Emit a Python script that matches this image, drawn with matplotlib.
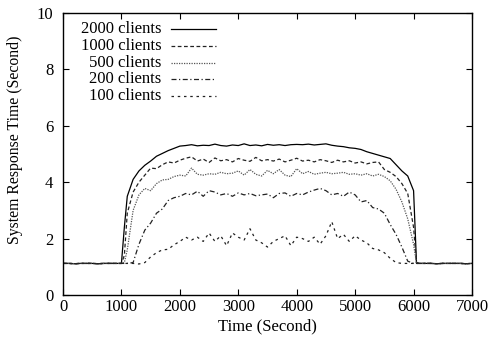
import matplotlib
matplotlib.use('Agg')
import matplotlib.pyplot as plt
import numpy as np

plt.rcParams['font.family'] = ['Liberation Serif', 'DejaVu Serif']
plt.rcParams['font.size'] = 12

# time grid (seconds): every 100 s, plus points at 1050 and 6050 for the steep edges
time_s = [0, 100, 200, 300, 400, 500, 600, 700, 800, 900, 1000, 1050,
          1100, 1200, 1300, 1400, 1500, 1600, 1700, 1800, 1900, 2000,
          2100, 2200, 2300, 2400, 2500, 2600, 2700, 2800, 2900, 3000,
          3100, 3200, 3300, 3400, 3500, 3600, 3700, 3800, 3900, 4000,
          4100, 4200, 4300, 4400, 4500, 4600, 4700, 4800, 4900, 5000,
          5100, 5200, 5300, 5400, 5500, 5600, 5700, 5800, 5900, 6000, 6050,
          6100, 6200, 6300, 6400, 6500, 6600, 6700, 6800, 6900, 7000]

base_pre = [1.12, 1.12, 1.11, 1.12, 1.12, 1.12, 1.11, 1.12, 1.12, 1.12, 1.12]
base_post = [1.12, 1.12, 1.12, 1.11, 1.12, 1.12, 1.12, 1.12, 1.11, 1.12]

c2000 = base_pre + [2.4,
    3.5, 4.1, 4.4, 4.6, 4.75, 4.92, 5.02, 5.12, 5.2, 5.28,
    5.3, 5.33, 5.29, 5.31, 5.3, 5.35, 5.3, 5.28, 5.32, 5.3,
    5.36, 5.3, 5.32, 5.29, 5.34, 5.31, 5.33, 5.3, 5.33, 5.34,
    5.33, 5.35, 5.32, 5.34, 5.36, 5.31, 5.28, 5.26, 5.22, 5.2,
    5.16, 5.08, 5.02, 4.96, 4.9, 4.84, 4.62, 4.4, 4.22, 3.7, 1.15] + base_post

c1000 = base_pre + [1.4,
    2.9, 3.65, 4.0, 4.25, 4.5, 4.48, 4.62, 4.72, 4.68, 4.78,
    4.85, 4.9, 4.75, 4.82, 4.7, 4.86, 4.76, 4.8, 4.72, 4.84,
    4.78, 4.74, 4.88, 4.76, 4.8, 4.75, 4.82, 4.72, 4.78, 4.85,
    4.75, 4.78, 4.72, 4.8, 4.76, 4.7, 4.78, 4.72, 4.76, 4.68,
    4.72, 4.65, 4.7, 4.72, 4.45, 4.35, 4.2, 3.95, 3.6, 2.4, 1.12] + base_post

c500 = base_pre + [1.15,
    1.6, 3.0, 3.55, 3.78, 3.7, 3.95, 4.08, 4.1, 4.2, 4.25,
    4.22, 4.5, 4.28, 4.25, 4.3, 4.28, 4.35, 4.3, 4.32, 4.4,
    4.25, 4.45, 4.28, 4.22, 4.42, 4.3, 4.45, 4.25, 4.2, 4.48,
    4.3, 4.38, 4.28, 4.32, 4.35, 4.3, 4.32, 4.35, 4.28, 4.3,
    4.25, 4.3, 4.22, 4.28, 4.2, 4.05, 3.75, 3.3, 2.7, 1.8, 1.12] + base_post

c200 = base_pre + [1.12,
    1.12, 1.15, 1.8, 2.3, 2.55, 2.9, 3.05, 3.35, 3.45, 3.5,
    3.6, 3.55, 3.68, 3.5, 3.7, 3.65, 3.55, 3.6, 3.5, 3.62,
    3.55, 3.6, 3.52, 3.55, 3.58, 3.45, 3.6, 3.62, 3.5, 3.6,
    3.55, 3.65, 3.72, 3.78, 3.7, 3.55, 3.6, 3.5, 3.65, 3.55,
    3.3, 3.35, 3.1, 3.05, 2.9, 2.5, 2.15, 1.7, 1.2, 1.12, 1.12] + base_post

c100 = base_pre + [1.12,
    1.12, 1.12, 1.1, 1.15, 1.35, 1.5, 1.6, 1.62, 1.78, 1.9,
    2.05, 1.95, 2.05, 1.9, 2.2, 1.9, 2.1, 1.75, 2.2, 2.05,
    1.95, 2.35, 1.95, 1.85, 1.7, 1.9, 2.0, 2.1, 1.75, 2.05,
    2.0, 1.9, 2.05, 1.8, 2.1, 2.6, 2.0, 2.15, 1.9, 2.1,
    1.95, 1.85, 1.65, 1.6, 1.5, 1.3, 1.15, 1.12, 1.12, 1.12, 1.12] + base_post

labels = ['2000 clients', '1000 clients', '500 clients', '200 clients', '100 clients']
series = [c2000, c1000, c500, c200, c100]
styles = ['-', (0, (3, 2)), (0, (1, 1)), (0, (4, 2, 1, 2)), (0, (2, 3))]
colors = ['black', '#222222', '#555555', '#222222', '#222222']

fig = plt.figure(figsize=(4.93, 3.54), dpi=100)
ax = fig.add_axes([63 / 493, 59 / 354, 409 / 493, 282 / 354])

for vals, ls, col in zip(series, styles, colors):
    ax.plot(time_s, vals, linestyle=ls, color=col, linewidth=0.9)

# gnuplot-style legend: right-aligned text, sample line to the right
for i, (lab, ls, col) in enumerate(zip(labels, styles, colors)):
    y = 0.943 - i * 0.0596
    ax.text(0.24, y, lab, transform=ax.transAxes, ha='right', va='center')
    ax.plot([0.265, 0.375], [y, y], transform=ax.transAxes,
            linestyle=ls, color=col, linewidth=0.9)

ax.set_xlim(0, 7000)
ax.set_ylim(0, 10)
ax.set_xticks(range(0, 7001, 1000))
ax.set_yticks(range(0, 11, 2))
ax.tick_params(direction='in', length=4, top=True, right=True, width=0.8)
ax.tick_params(axis='x', pad=3)
ax.tick_params(axis='y', pad=7)
for sp in ax.spines.values():
    sp.set_linewidth(1.0)
ax.set_xlabel('Time (Second)', labelpad=2)
ax.set_ylabel('System Response Time (Second)', fontsize=11.3)
ax.yaxis.set_label_coords(-0.098, 0.551)

fig.savefig('out.png', dpi=100)
